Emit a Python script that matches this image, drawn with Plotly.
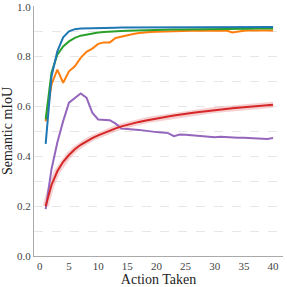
import plotly.graph_objects as go

steps = list(range(1, 41))

blue = [0.45, 0.72, 0.821, 0.877, 0.901, 0.910, 0.913, 0.914, 0.915, 0.915,
        0.916, 0.916, 0.916, 0.917, 0.917, 0.917, 0.917, 0.917, 0.917, 0.917,
        0.918, 0.918, 0.918, 0.918, 0.918, 0.918, 0.918, 0.918, 0.918, 0.918,
        0.918, 0.919, 0.919, 0.919, 0.919, 0.919, 0.919, 0.919, 0.919, 0.919]

green = [0.548, 0.735, 0.808, 0.841, 0.861, 0.875, 0.884, 0.889, 0.894, 0.897,
         0.899, 0.901, 0.902, 0.903, 0.904, 0.905, 0.906, 0.906, 0.907, 0.907,
         0.908, 0.908, 0.909, 0.909, 0.909, 0.910, 0.910, 0.910, 0.911, 0.911,
         0.911, 0.911, 0.912, 0.912, 0.912, 0.912, 0.913, 0.913, 0.913, 0.913]

orange = [0.54, 0.688, 0.748, 0.695, 0.741, 0.761, 0.795, 0.819, 0.832, 0.851,
          0.857, 0.857, 0.875, 0.881, 0.888, 0.891, 0.895, 0.898, 0.899, 0.900,
          0.901, 0.902, 0.902, 0.903, 0.903, 0.904, 0.904, 0.904, 0.905, 0.905,
          0.905, 0.905, 0.897, 0.902, 0.904, 0.905, 0.905, 0.905, 0.905, 0.905]

red = [0.200, 0.285, 0.340, 0.378, 0.405, 0.428, 0.446, 0.460, 0.473, 0.484,
       0.494, 0.503, 0.512, 0.520, 0.527, 0.532, 0.538, 0.543, 0.548, 0.552,
       0.556, 0.560, 0.564, 0.568, 0.571, 0.574, 0.577, 0.580, 0.583, 0.586,
       0.588, 0.591, 0.593, 0.595, 0.597, 0.599, 0.601, 0.603, 0.605, 0.607]

purple = [0.188, 0.348, 0.455, 0.541, 0.615, 0.635, 0.652, 0.635, 0.575, 0.548,
          0.545, 0.545, 0.531, 0.511, 0.510, 0.509, 0.506, 0.503, 0.499, 0.497,
          0.495, 0.493, 0.481, 0.487, 0.486, 0.484, 0.481, 0.482, 0.479, 0.476,
          0.478, 0.476, 0.477, 0.474, 0.474, 0.473, 0.473, 0.472, 0.469, 0.473]

y_ticks = [0.0, 0.2, 0.4, 0.6, 0.8, 1.0]
x_ticks = [0, 5, 10, 15, 20, 25, 30, 35, 40]

fig = go.Figure()

# soft band behind red
fig.add_trace(go.Scatter(x=steps, y=red, mode="lines",
                         line=dict(color="rgba(214,39,40,0.22)", width=6),
                         hoverinfo="skip", showlegend=False))

series = [
    (purple, "#9467bd"),
    (red, "#d62728"),
    (orange, "#ff7f0e"),
    (green, "#2ca02c"),
    (blue, "#1f77b4"),
]
for ys, col in series:
    fig.add_trace(go.Scatter(x=steps, y=ys, mode="lines",
                             line=dict(color=col, width=2), showlegend=False))

font_family = "Times New Roman, Liberation Serif, serif"
fig.update_layout(
    width=287, height=287,
    margin=dict(l=34, r=4, t=6, b=31, autoexpand=False),
    paper_bgcolor="white", plot_bgcolor="white",
    font=dict(family=font_family, color="#333333", size=11),
    xaxis=dict(
        range=[-1.0, 41.7], tickvals=x_ticks, ticktext=[str(v) for v in x_ticks],
        showgrid=False, zeroline=False, automargin=False,
        showline=True, linecolor="#aaaaaa", linewidth=1,
        ticks="", ticklen=0,
        title=dict(text="Action Taken", font=dict(size=14, family=font_family, color="#222222"), standoff=2),
        tickfont=dict(size=11, family=font_family, color="#444444"),
    ),
    yaxis=dict(
        range=[0, 1.003], tickvals=y_ticks, ticktext=[f"{v:.1f}" for v in y_ticks],
        showgrid=True, gridcolor="#e6e6e6", griddash="dash", gridwidth=1,
        minor=dict(dtick=0.1, showgrid=True, gridcolor="#e6e6e6", griddash="dash", gridwidth=1),
        zeroline=False, automargin=False, ticklabeloverflow="allow",
        showline=True, linecolor="#aaaaaa", linewidth=1,
        ticks="", ticklen=0,
        title=dict(text="Semantic mIoU", font=dict(size=14, family=font_family, color="#222222"), standoff=4),
        tickfont=dict(size=11, family=font_family, color="#444444"),
    ),
)

fig.write_html("out.html", config={"displayModeBar": False},
               post_script="document.body.style.margin='0';")
